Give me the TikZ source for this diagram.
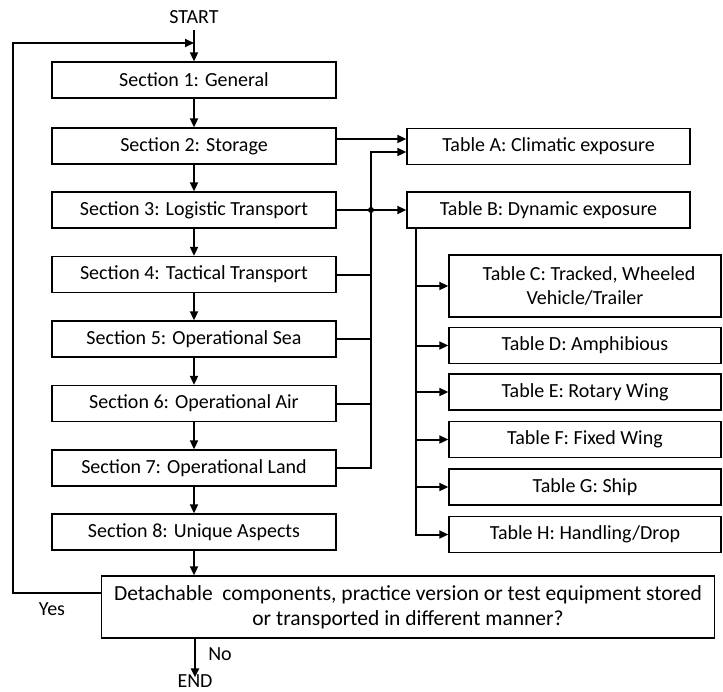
\documentclass[tikz,border=0pt]{standalone}
\usepackage{fontspec}
\setmainfont{Carlito}
\usetikzlibrary{arrows.meta}
\begin{document}
\begin{tikzpicture}[x=1pt,y=-1pt,
  font=\fontsize{20}{24}\selectfont,
  box/.style={draw, line width=1.4pt, minimum height=36pt, inner sep=0pt, align=center},
  sec/.style={box, minimum width=284pt},
  taba/.style={box, minimum width=283pt},
  tabc/.style={box, minimum width=272pt},
  conn/.style={line width=2pt},
  arr/.style={conn, -{Triangle[length=9pt,width=8pt]}},
  lbl/.style={inner sep=0pt}]
\useasboundingbox[fill=white] (0,0) rectangle (723,691);

\node[lbl] (start) at (194,17) {START};
\node[sec] (S1) at (194,80) {Section 1: General};
\node[sec] (S2) at (194,146) {Section 2: Storage};
\node[sec] (S3) at (194,210) {Section 3: Logistic Transport};
\node[sec] (S4) at (194,274.5) {Section 4: Tactical Transport};
\node[sec] (S5) at (194,339) {Section 5: Operational Sea};
\node[sec] (S6) at (194,403.5) {Section 6: Operational Air};
\node[sec] (S7) at (194,468) {Section 7: Operational Land};
\node[sec] (S8) at (194,532) {Section 8: Unique Aspects};
\node[box, minimum width=613pt, minimum height=62pt, font=\fontsize{21.5}{25}\selectfont] (DEC) at (408,607)
  {Detachable~ components, practice version or test equipment stored\\or transported in different manner?};
\node[lbl] (yes) at (52,609) {Yes};
\node[lbl] (no) at (220,654) {No};
\node[lbl] (END) at (195,681) {END};

\node[taba] (TA) at (548.5,146.5) {Table A: Climatic exposure};
\node[taba] (TB) at (548.5,210) {Table B: Dynamic exposure};

\node[tabc, minimum height=62pt] (TC) at (585,286) {\hspace*{8pt}Table C: Tracked, Wheeled\\Vehicle/Trailer};
\node[tabc] (TD) at (585,345.5) {Table D: Amphibious};
\node[tabc] (TE) at (585,392) {Table E: Rotary Wing};
\node[tabc] (TF) at (585,439.5) {Table F: Fixed Wing};
\node[tabc] (TG) at (585,487) {Table G: Ship};
\node[tabc] (TH) at (585,534.5) {Table H: Handling/Drop};

% main chain
\draw[arr] ([yshift=-6pt]start.south) -- (S1.north);
\draw[arr] (S1) -- (S2);
\draw[arr] (S2) -- (S3);
\draw[arr] (S3) -- (S4);
\draw[arr] (S4) -- (S5);
\draw[arr] (S5) -- (S6);
\draw[arr] (S6) -- (S7);
\draw[arr] (S7) -- (S8);
\draw[arr] (S8) -- (DEC.north -| S8);
\draw[arr] (DEC.south -| END) -- ([yshift=-3pt]END.north);

% loop back
\coordinate (loopL) at (13,43);
\draw[arr] ([yshift=14pt]DEC.west) -| (loopL) -- (loopL -| S1.north);

% bus to tables A and B
\coordinate (busT) at (371,152);
\draw[arr] (S7.east) -| (busT) -- (busT -| TA.west);
\draw[conn] (S4.east) -- (S4.east -| busT);
\draw[conn] (S5.east) -- (S5.east -| busT);
\draw[conn] (S6.east) -- (S6.east -| busT);
\draw[arr] (S3.east) -- (TB.west);
\fill (S3.east -| busT) circle (3pt);
\draw[arr] ([yshift=7pt]S2.east) -- ([yshift=7pt]S2.east -| TA.west);

% Table B branch
\coordinate (brT) at ([xshift=10pt]TB.south west);
\draw[arr] (brT) |- (TH.west);
\draw[arr] (brT |- TC.west) -- (TC.west);
\draw[arr] (brT |- TD.west) -- (TD.west);
\draw[arr] (brT |- TE.west) -- (TE.west);
\draw[arr] (brT |- TF.west) -- (TF.west);
\draw[arr] (brT |- TG.west) -- (TG.west);
\end{tikzpicture}
\end{document}
